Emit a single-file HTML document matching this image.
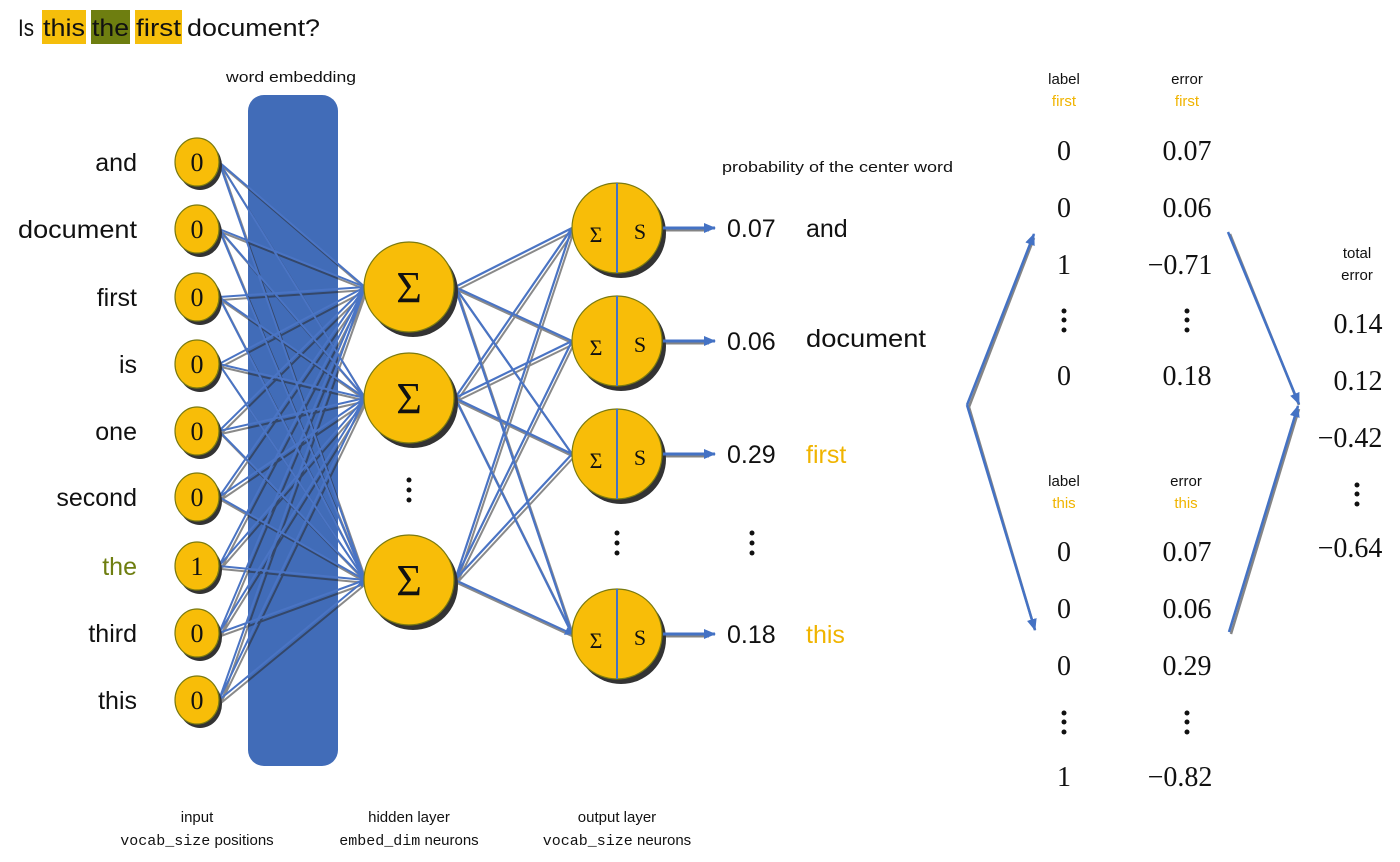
<!DOCTYPE html>
<html><head><meta charset="utf-8"><style>
html,body{margin:0;padding:0;background:#fff;}
svg{display:block;}
.s{font-family:"Liberation Sans",sans-serif;}
.m{font-family:"Liberation Serif",serif;}
</style></head><body>
<svg width="1400" height="862" viewBox="0 0 1400 862" xmlns="http://www.w3.org/2000/svg">
<defs>
<marker id="ah" markerWidth="8" markerHeight="8" refX="7" refY="4" orient="auto" markerUnits="userSpaceOnUse"><path d="M0,0 L8,4 L0,8 z" fill="#4472c4"/></marker>
<marker id="ah2" markerWidth="12" markerHeight="10" refX="11" refY="5" orient="auto" markerUnits="userSpaceOnUse"><path d="M0,0 L12,5 L0,10 z" fill="#4472c4"/></marker>
</defs>
<!-- title -->
<rect x="42" y="10" width="44" height="34" fill="#f5be0b"/>
<rect x="91" y="10" width="39" height="34" fill="#6e7e10"/>
<rect x="135" y="10" width="47" height="34" fill="#f5be0b"/>
<g class="s" font-size="24" fill="#111">
<text x="18" y="36" textLength="16" lengthAdjust="spacingAndGlyphs">Is</text>
<text x="43" y="36" textLength="42" lengthAdjust="spacingAndGlyphs">this</text>
<text x="92" y="36" textLength="37" lengthAdjust="spacingAndGlyphs">the</text>
<text x="136" y="36" textLength="45" lengthAdjust="spacingAndGlyphs">first</text>
<text x="187" y="36" textLength="133" lengthAdjust="spacingAndGlyphs">document?</text>
</g>
<text x="226" y="82" class="s" font-size="15" fill="#111" textLength="130" lengthAdjust="spacingAndGlyphs">word embedding</text>
<!-- bar -->
<rect x="248" y="95" width="90" height="671" rx="16" fill="#416cb8"/>
<!-- input-hidden lines -->
<g stroke="#2a2a2a" stroke-width="2" opacity="0.55" transform="translate(2,3)">
<path d="M219,162L365,287M219,162L365,398M219,162L365,580M219,229L365,287M219,229L365,398M219,229L365,580M219,297L365,287M219,297L365,398M219,297L365,580M219,364L365,287M219,364L365,398M219,364L365,580M219,431L365,287M219,431L365,398M219,431L365,580M219,497L365,287M219,497L365,398M219,497L365,580M219,566L365,287M219,566L365,398M219,566L365,580M219,633L365,287M219,633L365,398M219,633L365,580M219,700L365,287M219,700L365,398M219,700L365,580"/>
</g>
<g stroke="#4a74c4" stroke-width="2" marker-end="url(#ah)">
<path d="M219,162L365,287M219,162L365,398M219,162L365,580M219,229L365,287M219,229L365,398M219,229L365,580M219,297L365,287M219,297L365,398M219,297L365,580M219,364L365,287M219,364L365,398M219,364L365,580M219,431L365,287M219,431L365,398M219,431L365,580M219,497L365,287M219,497L365,398M219,497L365,580M219,566L365,287M219,566L365,398M219,566L365,580M219,633L365,287M219,633L365,398M219,633L365,580M219,700L365,287M219,700L365,398M219,700L365,580"/>
</g>
<!-- hidden-output lines -->
<g stroke="#2a2a2a" stroke-width="2" opacity="0.55" transform="translate(2,3)">
<path d="M455,287L572,228M455,287L572,341M455,287L572,454M455,287L572,634M455,398L572,228M455,398L572,341M455,398L572,454M455,398L572,634M455,580L572,228M455,580L572,341M455,580L572,454M455,580L572,634"/>
</g>
<g stroke="#4a74c4" stroke-width="2.2" marker-end="url(#ah)">
<path d="M455,287L572,228M455,287L572,341M455,287L572,454M455,287L572,634M455,398L572,228M455,398L572,341M455,398L572,454M455,398L572,634M455,580L572,228M455,580L572,341M455,580L572,454M455,580L572,634"/>
</g>
<!-- input nodes -->
<g class="s" font-size="25" fill="#111" text-anchor="end">
<text x="137" y="171">and</text>
<text x="137" y="238" textLength="119" lengthAdjust="spacingAndGlyphs">document</text>
<text x="137" y="306">first</text>
<text x="137" y="373">is</text>
<text x="137" y="440">one</text>
<text x="137" y="506">second</text>
<text x="137" y="575" fill="#6e7e10">the</text>
<text x="137" y="642">third</text>
<text x="137" y="709">this</text>
</g>
<g stroke="#7a7a10" stroke-width="1.2" fill="#f8bd08">
<ellipse cx="200" cy="166" rx="22" ry="24" fill="#333" stroke="none"/>
<ellipse cx="197" cy="162" rx="22" ry="24"/>
<ellipse cx="200" cy="233" rx="22" ry="24" fill="#333" stroke="none"/>
<ellipse cx="197" cy="229" rx="22" ry="24"/>
<ellipse cx="200" cy="301" rx="22" ry="24" fill="#333" stroke="none"/>
<ellipse cx="197" cy="297" rx="22" ry="24"/>
<ellipse cx="200" cy="368" rx="22" ry="24" fill="#333" stroke="none"/>
<ellipse cx="197" cy="364" rx="22" ry="24"/>
<ellipse cx="200" cy="435" rx="22" ry="24" fill="#333" stroke="none"/>
<ellipse cx="197" cy="431" rx="22" ry="24"/>
<ellipse cx="200" cy="501" rx="22" ry="24" fill="#333" stroke="none"/>
<ellipse cx="197" cy="497" rx="22" ry="24"/>
<ellipse cx="200" cy="570" rx="22" ry="24" fill="#333" stroke="none"/>
<ellipse cx="197" cy="566" rx="22" ry="24"/>
<ellipse cx="200" cy="637" rx="22" ry="24" fill="#333" stroke="none"/>
<ellipse cx="197" cy="633" rx="22" ry="24"/>
<ellipse cx="200" cy="704" rx="22" ry="24" fill="#333" stroke="none"/>
<ellipse cx="197" cy="700" rx="22" ry="24"/>
</g>
<g class="m" font-size="26" fill="#111" text-anchor="middle">
<text x="197" y="171">0</text><text x="197" y="238">0</text><text x="197" y="306">0</text>
<text x="197" y="373">0</text><text x="197" y="440">0</text><text x="197" y="506">0</text>
<text x="197" y="575">1</text><text x="197" y="642">0</text><text x="197" y="709">0</text>
</g>
<!-- hidden nodes -->
<g stroke="#7a7a10" stroke-width="1.2" fill="#f8bd08">
<circle cx="413" cy="292" r="45" fill="#333" stroke="none"/><circle cx="409" cy="287" r="45"/>
<circle cx="413" cy="403" r="45" fill="#333" stroke="none"/><circle cx="409" cy="398" r="45"/>
<circle cx="413" cy="585" r="45" fill="#333" stroke="none"/><circle cx="409" cy="580" r="45"/>
</g>
<g class="m" font-size="44" fill="#111" text-anchor="middle">
<text x="409" y="302">Σ</text><text x="409" y="413">Σ</text><text x="409" y="595">Σ</text>
</g>
<g fill="#111"><circle cx="409" cy="480" r="2.5"/><circle cx="409" cy="490" r="2.5"/><circle cx="409" cy="500" r="2.5"/>
<circle cx="617" cy="533" r="2.5"/><circle cx="617" cy="543" r="2.5"/><circle cx="617" cy="553" r="2.5"/>
<circle cx="752" cy="533" r="2.5"/><circle cx="752" cy="543" r="2.5"/><circle cx="752" cy="553" r="2.5"/></g>
<!-- output nodes -->
<g stroke="#7a7a10" stroke-width="1.2" fill="#f8bd08">
<circle cx="621" cy="233" r="45" fill="#333" stroke="none"/><circle cx="617" cy="228" r="45"/>
<circle cx="621" cy="346" r="45" fill="#333" stroke="none"/><circle cx="617" cy="341" r="45"/>
<circle cx="621" cy="459" r="45" fill="#333" stroke="none"/><circle cx="617" cy="454" r="45"/>
<circle cx="621" cy="639" r="45" fill="#333" stroke="none"/><circle cx="617" cy="634" r="45"/>
</g>
<g stroke="#4472c4" stroke-width="2">
<line x1="617" y1="183" x2="617" y2="273"/><line x1="617" y1="296" x2="617" y2="386"/>
<line x1="617" y1="409" x2="617" y2="499"/><line x1="617" y1="589" x2="617" y2="679"/>
</g>
<g class="m" font-size="22" fill="#111" text-anchor="middle">
<text x="596" y="242">Σ</text><text x="640" y="239">S</text>
<text x="596" y="355">Σ</text><text x="640" y="352">S</text>
<text x="596" y="468">Σ</text><text x="640" y="465">S</text>
<text x="596" y="648">Σ</text><text x="640" y="645">S</text>
</g>
<g stroke="#333" stroke-width="3" opacity="0.6" transform="translate(1,2)">
<line x1="663" y1="228" x2="708" y2="228"/><line x1="663" y1="341" x2="708" y2="341"/>
<line x1="663" y1="454" x2="708" y2="454"/><line x1="663" y1="634" x2="708" y2="634"/>
</g>
<g stroke="#4472c4" stroke-width="3" marker-end="url(#ah2)">
<line x1="663" y1="228" x2="715" y2="228"/><line x1="663" y1="341" x2="715" y2="341"/>
<line x1="663" y1="454" x2="715" y2="454"/><line x1="663" y1="634" x2="715" y2="634"/>
</g>
<text x="722" y="172" class="s" font-size="15" fill="#111" textLength="231" lengthAdjust="spacingAndGlyphs">probability of the center word</text>
<g class="s" font-size="25" fill="#111">
<text x="727" y="237">0.07</text><text x="806" y="237">and</text>
<text x="727" y="350">0.06</text><text x="806" y="347" textLength="120" lengthAdjust="spacingAndGlyphs">document</text>
<text x="727" y="463">0.29</text><text x="806" y="463" fill="#f0b400">first</text>
<text x="727" y="643">0.18</text><text x="806" y="643" fill="#f0b400">this</text>
</g>
<!-- bottom labels -->
<g class="s" font-size="15" fill="#111" text-anchor="middle">
<text x="197" y="822">input</text>
<text x="197" y="845"><tspan font-family="Liberation Mono,monospace">vocab_size</tspan> positions</text>
<text x="409" y="822">hidden layer</text>
<text x="409" y="845"><tspan font-family="Liberation Mono,monospace">embed_dim</tspan> neurons</text>
<text x="617" y="822">output layer</text>
<text x="617" y="845"><tspan font-family="Liberation Mono,monospace">vocab_size</tspan> neurons</text>
</g>
<!-- right side -->
<g class="s" font-size="15" text-anchor="middle">
<text x="1064" y="84" fill="#111">label</text><text x="1064" y="106" fill="#f0b400">first</text>
<text x="1187" y="84" fill="#111">error</text><text x="1187" y="106" fill="#f0b400">first</text>
<text x="1064" y="486" fill="#111">label</text><text x="1064" y="508" fill="#f0b400">this</text>
<text x="1186" y="486" fill="#111">error</text><text x="1186" y="508" fill="#f0b400">this</text>
<text x="1357" y="258" fill="#111">total</text><text x="1357" y="280" fill="#111">error</text>
</g>
<g class="m" font-size="28" fill="#111" text-anchor="middle">
<text x="1064" y="160">0</text><text x="1187" y="160">0.07</text>
<text x="1064" y="217">0</text><text x="1187" y="217">0.06</text>
<text x="1064" y="274">1</text><text x="1180" y="274">−0.71</text>
<text x="1064" y="385">0</text><text x="1187" y="385">0.18</text>
<text x="1064" y="561">0</text><text x="1187" y="561">0.07</text>
<text x="1064" y="618">0</text><text x="1187" y="618">0.06</text>
<text x="1064" y="675">0</text><text x="1187" y="675">0.29</text>
<text x="1064" y="786">1</text><text x="1180" y="786">−0.82</text>
<text x="1358" y="333">0.14</text><text x="1358" y="390">0.12</text>
<text x="1350" y="447">−0.42</text><text x="1350" y="557">−0.64</text>
</g>
<g fill="#111">
<circle cx="1064" cy="311" r="2.5"/><circle cx="1064" cy="320" r="2.5"/><circle cx="1064" cy="330" r="2.5"/>
<circle cx="1187" cy="311" r="2.5"/><circle cx="1187" cy="320" r="2.5"/><circle cx="1187" cy="330" r="2.5"/>
<circle cx="1064" cy="713" r="2.5"/><circle cx="1064" cy="722" r="2.5"/><circle cx="1064" cy="732" r="2.5"/>
<circle cx="1187" cy="713" r="2.5"/><circle cx="1187" cy="722" r="2.5"/><circle cx="1187" cy="732" r="2.5"/>
<circle cx="1357" cy="485" r="2.5"/><circle cx="1357" cy="494" r="2.5"/><circle cx="1357" cy="504" r="2.5"/>
</g>
<g stroke="#333" stroke-width="2.5" fill="none" opacity="0.6" transform="translate(2,2)">
<path d="M967,405L1032,236M967,405L1033,628M1228,232L1297,403M1229,632L1297,407"/>
</g>
<g stroke="#4472c4" stroke-width="2.5" fill="none" marker-end="url(#ah2)">
<path d="M967,405L1034,234"/><path d="M967,405L1035,630"/>
<path d="M1228,232L1299,404"/><path d="M1229,632L1298,406"/>
</g>
</svg>
</body></html>
